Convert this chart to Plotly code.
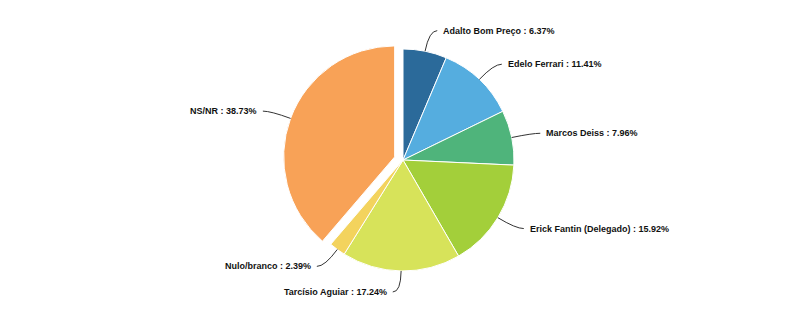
import math
import plotly.graph_objects as go

labels = ["Adalto Bom Preço", "Edelo Ferrari", "Marcos Deiss", "Erick Fantin (Delegado)",
          "Tarcísio Aguiar", "Nulo/branco", "NS/NR"]
values = [6.37, 11.41, 7.96, 15.92, 17.24, 2.39, 38.73]
colors = ["#2b6a9a", "#55addf", "#4fb47b", "#a3cf3a", "#d7e35a", "#f3d35d", "#f8a257"]
pulls = [0, 0, 0, 0, 0, 0, 0.08]

W, H = 799, 322
CX, CY, R = 403, 160, 111          # pie centre and radius in pixels
LABEL_GAP = 21                     # distance of label anchor beyond the rim
max_pull = max(pulls)
half = R * (1 + max_pull)

fig = go.Figure(go.Pie(
    labels=labels, values=values, sort=False, direction="clockwise", rotation=0,
    pull=pulls, textinfo="none", hoverinfo="label+percent",
    marker=dict(colors=colors, line=dict(color="white", width=1)),
    domain=dict(x=[(CX - half) / W, (CX + half) / W],
                y=[1 - (CY + half) / H, 1 - (CY - half) / H]),
    showlegend=False,
))

def px2paper(x, y):
    return x / W, 1 - y / H

total = sum(values)
cum = 0.0
shapes, annotations = [], []
for lab, v, p in zip(labels, values, pulls):
    mid = (cum + v / 2) / total * 2 * math.pi
    cum += v
    sx, sy = math.sin(mid), -math.cos(mid)
    cx, cy = CX + p * R * sx, CY + p * R * sy
    p0 = (cx + R * sx, cy + R * sy)
    c = (cx + (R + LABEL_GAP) * sx, cy + (R + LABEL_GAP) * sy)
    side = 1 if sx >= 0 else -1
    e = (c[0] + side * 8, c[1])
    a, b = px2paper(*p0)
    qa, qb = px2paper(*c)
    ea, eb = px2paper(*e)
    shapes.append(dict(type="path", xref="paper", yref="paper",
                       path=f"M {a} {b} Q {qa} {qb} {ea} {eb}",
                       line=dict(color="#333333", width=1)))
    tx, ty = px2paper(e[0] + side * 4, e[1])
    annotations.append(dict(x=tx, y=ty, xref="paper", yref="paper", showarrow=False,
                            text=f"<b>{lab} : {v:.2f}%</b>",
                            xanchor="left" if side > 0 else "right", yanchor="middle",
                            font=dict(family="Liberation Sans, Arial, sans-serif",
                                      size=9, color="#111111")))

fig.update_layout(width=W, height=H, margin=dict(l=0, r=0, t=0, b=0),
                  paper_bgcolor="white", plot_bgcolor="white",
                  shapes=shapes, annotations=annotations)
fig.write_html("out.html")
